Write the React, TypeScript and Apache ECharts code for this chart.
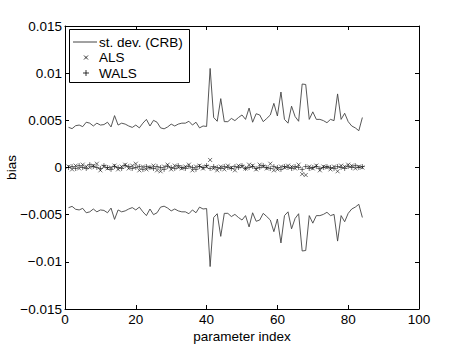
import React, { useEffect, useRef } from "react";
import * as echarts from "echarts";

const indices: number[] = Array.from({ length: 84 }, (_, i) => i + 1);

const crbStd: number[] = [
  0.00426, 0.00412, 0.00443, 0.0045, 0.00433, 0.0048, 0.0047, 0.0044, 0.0047, 0.0045,
  0.00455, 0.0048, 0.0043, 0.0055, 0.0045, 0.0047, 0.0046, 0.0044, 0.00425, 0.0045,
  0.0042, 0.0047, 0.0051, 0.0044, 0.005, 0.0048, 0.0042, 0.0041, 0.0043, 0.0046,
  0.0044, 0.0046, 0.0047, 0.0047, 0.0049, 0.0045, 0.0048, 0.0042, 0.0044, 0.00435,
  0.0105, 0.0053, 0.0049, 0.0073, 0.00486, 0.00486, 0.0052, 0.00497, 0.0053, 0.00557,
  0.0051, 0.0063, 0.0048, 0.0057, 0.00557, 0.00486, 0.0052, 0.00557, 0.0068, 0.00546,
  0.008, 0.0051, 0.0047, 0.0065, 0.0054, 0.0049, 0.00885, 0.0088, 0.0051, 0.0059,
  0.0051, 0.0051, 0.00497, 0.00475, 0.0051, 0.00497, 0.0078, 0.0051, 0.00575, 0.00486,
  0.0044, 0.0042, 0.0039, 0.0053,
];

const alsBias: number[] = [
  1, -2, 2, -1, 3, 1, 0, 2, 4, -3, 1, -1, 0, 2, -2, 1, 3, -1, 2, 4,
  -3, 1, -2, 0, 2, -3, -4, 1, 3, -2, 2, 0, -1, 1, 3, -3, 1, 2, -1, 1,
  8, -1, -3, 1, -2, 2, 0, -3, 2, 1, -1, 3, 2, -2, 3, 1, -1, 4, -3, -2,
  1, 0, 2, 1, -1, 3, -7, -8, 1, -1, 2, -3, 1, 0, -2, 1, -4, 2, 1, 3,
  2, -1, 1, 0,
].map((v) => v * 1e-4);

const walsBias: number[] = [
  0, 1, -1, 2, 0, -1, 3, 1, 0, -1, 2, 0, -2, 1, 0, -1, 2, 1, -1, 0,
  1, -2, 1, 0, -1, 1, 0, -2, 1, 0, -1, 2, 0, -1, 1, 0, -2, 1, 0, 2,
  -1, 1, 0, -1, 1, 0, -1, 1, 0, 2, -1, 0, 1, -1, 0, 2, 0, -1, 1, 0,
  -2, 1, 0, -1, 1, 0, -2, 1, -1, 0, 1, -1, 0, 1, 0, -1, 1, 0, -1, 1,
  0, 2, 0, 1,
].map((v) => v * 1e-4);

const legendNames: string[] = ["st. dev. (CRB)", "ALS", "WALS"];

const FONT = "'Liberation Sans', Arial, Helvetica, sans-serif";
const LINE_COLOR = "#444";

export default function App() {
  const ref = useRef<HTMLDivElement>(null);
  useEffect(() => {
    if (!ref.current) return;
    const chart = echarts.init(ref.current, undefined, { renderer: "svg" });
    const upper = indices.map((x, i) => [x, crbStd[i]]);
    const lower = indices.map((x, i) => [x, -crbStd[i]]);
    const als = indices.map((x, i) => [x, alsBias[i]]);
    const wals = indices.map((x, i) => [x, walsBias[i]]);
    const fmtY = (v: number) => {
      const r = Math.round(v * 1000) / 1000;
      const s = String(Math.abs(r));
      return r < 0 ? "\u2212" + s : s;
    };
    const axisCommon = {
      axisLine: { show: true, onZero: false, lineStyle: { color: "#000", width: 1 } },
      axisTick: { show: true, inside: true, length: 4, lineStyle: { color: "#000" } },
      splitLine: { show: false },
    };
    const rowY = [42, 57.5, 73];
    const textX = 99;
    const mx = 86;
    const legendGraphic = {
      type: "group",
      children: [
        {
          type: "rect",
          shape: { x: 69.5, y: 29.5, width: 120, height: 53 },
          style: { fill: "#fff", stroke: "#000", lineWidth: 1 },
          z: 100,
        },
        {
          type: "line",
          shape: { x1: 73, y1: rowY[0], x2: 97, y2: rowY[0] },
          style: { stroke: LINE_COLOR, lineWidth: 1 },
          z: 101,
        },
        {
          type: "line",
          shape: { x1: mx - 2, y1: rowY[1] - 2, x2: mx + 2, y2: rowY[1] + 2 },
          style: { stroke: "#000", lineWidth: 0.8 },
          z: 101,
        },
        {
          type: "line",
          shape: { x1: mx + 2, y1: rowY[1] - 2, x2: mx - 2, y2: rowY[1] + 2 },
          style: { stroke: "#000", lineWidth: 0.8 },
          z: 101,
        },
        {
          type: "line",
          shape: { x1: mx, y1: rowY[2] - 3, x2: mx, y2: rowY[2] + 3 },
          style: { stroke: "#000", lineWidth: 0.8 },
          z: 101,
        },
        {
          type: "line",
          shape: { x1: mx - 3, y1: rowY[2], x2: mx + 3, y2: rowY[2] },
          style: { stroke: "#000", lineWidth: 0.8 },
          z: 101,
        },
        ...legendNames.map((name, i) => ({
          type: "text",
          x: textX,
          y: rowY[i],
          style: {
            text: name,
            fill: "#000",
            font: `13.5px ${FONT}`,
            textVerticalAlign: "middle",
            verticalAlign: "middle",
          },
          z: 101,
        })),
      ],
    };
    chart.setOption({
      animation: false,
      backgroundColor: "#fff",
      textStyle: { fontFamily: FONT },
      grid: { left: 65, right: 44, top: 26, bottom: 40, containLabel: false, outerBoundsMode: "none" },
      legend: { show: false, data: legendNames },
      graphic: [legendGraphic],
      xAxis: [
        {
          type: "value",
          min: 0,
          max: 100,
          interval: 20,
          name: "parameter index",
          nameLocation: "middle",
          nameGap: 20,
          nameMoveOverlap: false,
          nameTextStyle: { fontSize: 13.5, color: "#000", fontFamily: FONT },
          axisLabel: { fontSize: 13.5, color: "#000", margin: 3, fontFamily: FONT },
          ...axisCommon,
        },
        {
          type: "value",
          position: "top",
          min: 0,
          max: 100,
          interval: 20,
          axisLabel: { show: false },
          ...axisCommon,
        },
      ],
      yAxis: [
        {
          type: "value",
          min: -0.015,
          max: 0.015,
          interval: 0.005,
          name: "bias",
          nameLocation: "middle",
          nameGap: 47,
          nameMoveOverlap: false,
          nameTextStyle: { fontSize: 13.5, color: "#000", fontFamily: FONT },
          axisLabel: { fontSize: 13.5, color: "#000", margin: 3, fontFamily: FONT, formatter: fmtY },
          ...axisCommon,
        },
        {
          type: "value",
          position: "right",
          min: -0.015,
          max: 0.015,
          interval: 0.005,
          axisLabel: { show: false },
          ...axisCommon,
        },
      ],
      series: [
        {
          name: "st. dev. (CRB)",
          type: "line",
          data: upper,
          symbol: "none",
          lineStyle: { color: LINE_COLOR, width: 0.9 },
          itemStyle: { color: LINE_COLOR },
        },
        {
          name: "st. dev. (CRB)",
          type: "line",
          data: lower,
          symbol: "none",
          lineStyle: { color: LINE_COLOR, width: 0.9 },
          itemStyle: { color: LINE_COLOR },
        },
        {
          name: "ALS",
          type: "scatter",
          data: als,
          symbol: "path://M0,0L10,10M10,0L0,10",
          symbolSize: 4,
          itemStyle: { color: "none", borderColor: "#000", borderWidth: 0.7 },
        },
        {
          name: "WALS",
          type: "scatter",
          data: wals,
          symbol: "path://M5,0L5,10M0,5L10,5",
          symbolSize: 5,
          itemStyle: { color: "none", borderColor: "#000", borderWidth: 0.7 },
        },
      ],
    });
    return () => chart.dispose();
  }, []);
  return <div ref={ref} style={{ width: 463, height: 349, position: "absolute", left: 0, top: 0 }} />;
}
